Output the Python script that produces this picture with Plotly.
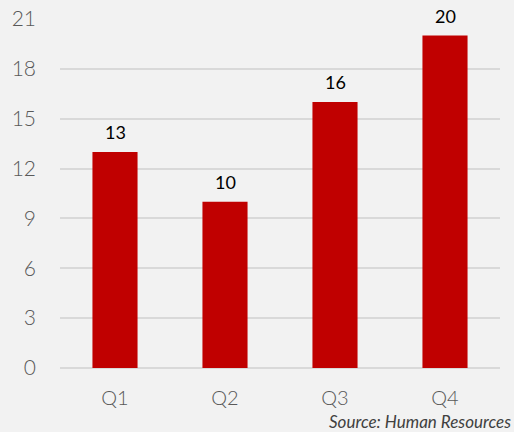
import plotly.graph_objects as go

categories = ["Q1", "Q2", "Q3", "Q4"]
values = [13, 10, 16, 20]
y_ticks = [0, 3, 6, 9, 12, 15, 18, 21]

fig = go.Figure(go.Bar(
    x=categories, y=values,
    marker=dict(color="#C00000", line=dict(width=0)),
    hoverinfo="skip",
))

for c, v in zip(categories, values):
    fig.add_annotation(x=c, y=v, text=str(v), showarrow=False, xref="x", yref="y",
                       yanchor="bottom", yshift=7,
                       font=dict(family="Lato", size=18, color="#000000"))

fig.add_annotation(text="<i>Source: Human Resources</i>", xref="paper", yref="paper",
                   x=1.03, y=-0.153, xanchor="right", yanchor="middle", showarrow=False,
                   font=dict(family="Lato", size=17, color="#404040"))

fig.update_layout(
    width=514, height=432,
    margin=dict(l=60, r=14, t=19, b=64, autoexpand=False),
    paper_bgcolor="#F2F2F2", plot_bgcolor="#F2F2F2",
    bargap=0.59,
    showlegend=False,
    font=dict(family="Lato", color="#595959"),
    xaxis=dict(showgrid=False, showline=False, ticks="", automargin=False,
               tickfont=dict(family="Lato", size=20, color="#595959", weight=300),
               ticklabelstandoff=16),
    yaxis=dict(range=[0, 21], tickvals=y_ticks, showgrid=True, gridcolor="#D9D9D9",
               gridwidth=1.5, zeroline=True, zerolinecolor="#D9D9D9", zerolinewidth=1.5,
               showline=False, ticks="", automargin=False,
               tickfont=dict(family="Lato", size=21, color="#595959", weight=300),
               ticklabelstandoff=23),
)

fig.write_html("out.html", config={"displayModeBar": False},
               post_script="document.body.style.margin='0';document.body.style.background='#F2F2F2';")
